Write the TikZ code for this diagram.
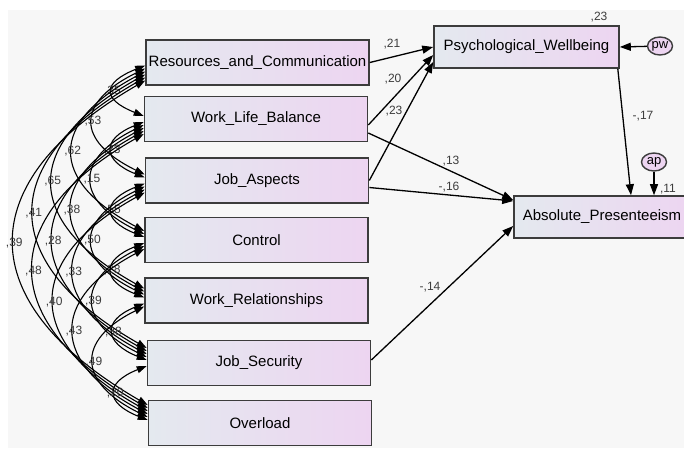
\documentclass[tikz,border=0pt]{standalone}
\usepackage{fontspec}
\setmainfont{Liberation Sans}
\usepackage{tikz}
\usetikzlibrary{arrows.meta,shapes.geometric}
\definecolor{bgc}{HTML}{F7F7F7}
\definecolor{boxl}{HTML}{E4E9EF}
\definecolor{boxr}{HTML}{EDD5F1}
\definecolor{edge}{HTML}{3C3C3C}

\begin{document}
\begin{tikzpicture}[x=1pt,y=-1pt,
        var/.style={draw=edge,line width=1.6pt,left color=boxl,right color=boxr,minimum width=223pt,minimum height=45pt,inner sep=0pt,font=\fontsize{15}{18}\selectfont},
        err/.style={draw=edge,line width=1.4pt,fill=boxr,ellipse,minimum width=25pt,minimum height=18pt,inner sep=0pt,font=\fontsize{13}{15}\selectfont},
        path/.style={line width=1.3pt,-{Triangle[length=11pt,width=8pt]}},
        cov/.style={line width=1.1pt,{Triangle[length=10pt,width=7pt]}-{Triangle[length=10pt,width=7pt]}},
        coef/.style={font=\fontsize{12}{14}\selectfont,text=edge,inner sep=0pt}]
        \useasboundingbox (0,0) rectangle (684,448);
        \fill[bgc] (8,10) rectangle (684,448);
        % exogenous variables
        \node[var] (res) at (257.5,62.5) {Resources\_and\_Communication};
        \node[var] (wlb) at (256,119) {Work\_Life\_Balance};
        \node[var] (jas) at (257,180.5) {Job\_Aspects};
        \node[var] (con) at (256.5,240) {Control};
        \node[var] (wrel) at (256.5,300.5) {Work\_Relationships};
        \node[var] (jsec) at (259,363) {Job\_Security};
        \node[var] (ovl) at (260,423) {Overload};
        % outcomes and errors
        \node[var,minimum width=185pt,minimum height=42pt] (psy) at (526.5,47) {Psychological\_Wellbeing};
        \node[var,minimum width=176pt,minimum height=42pt] (abs) at (602,217) {Absolute\_Presenteeism};
        \node[err] (pw) at (660,46) {pw};
        \node[err] (ap) at (654,162) {ap};
        % paths
        \draw[path] (res.east) -- (psy.west) node[coef,pos=0.35,above=7pt] (c1) {,21};
        \draw[path] ([yshift=-6pt]wlb.east) -- ([yshift=-8pt]psy.west); \draw[path] (jas.east) -- ([yshift=-15pt]psy.west);
        \draw[path] ([yshift=-14pt]wlb.east) -- ([yshift=17pt]abs.west); \draw[path] ([yshift=-7pt]jas.east) -- ([yshift=16pt]abs.west);
        \draw[path] ([yshift=3pt]jsec.east) -- ([yshift=-9pt]abs.west);
        \draw[path] ([xshift=-2pt]psy.south east) -- ([xshift=29pt]abs.north);
        \draw[path] (ap.south) -- (ap.south |- abs.north);
        \draw[path] (pw) -- (psy.east);
        \node[coef] (c2) at (393,79) {,20}; \node[coef] (c3) at (394,111) {,23};
        \node[coef] (c4) at (451,161) {,13}; \node[coef] (c5) at (449,187) {-,16};
        \node[coef] (c6) at (430,287) {-,14}; \node[coef] (c7) at (643,116) {-,17};
        \node[coef] (c8) at (668,189) {,11}; \node[coef] (r1) at (599,17) {,23};
        % covariances
        \foreach \a/\i/\b/\j/\v in {res/1/wlb/2/{,35}, res/1/jas/3/{,53}, res/1/con/4/{,62}, res/1/wrel/5/{,65}, res/1/jsec/6/{,41}, res/1/ovl/7/{,39},
                wlb/2/jas/3/{,23}, wlb/2/con/4/{,15}, wlb/2/wrel/5/{,38}, wlb/2/jsec/6/{,28}, wlb/2/ovl/7/{,48},
                jas/3/con/4/{,55}, jas/3/wrel/5/{,50}, jas/3/jsec/6/{,33}, jas/3/ovl/7/{,40},
                con/4/wrel/5/{,28}, con/4/jsec/6/{,39}, con/4/ovl/7/{,43},
                wrel/5/jsec/6/{,38}, wrel/5/ovl/7/{,49}, jsec/6/ovl/7/{,20}}{
            \pgfmathsetmacro\gap{\j-\i}
            \pgfmathsetmacro\cdep{16+26.7*\gap}
            \pgfmathsetmacro\cvert{17*\gap}
            \pgfmathsetmacro\csh{3*\gap}
            \draw[cov] ([yshift=-\csh pt]\a.west) .. controls +(-\cdep,\cvert) and +(-\cdep,-\cvert) .. ([yshift=\csh pt]\b.west) node[coef,pos=0.5] (r\a\b) {\v};
        }
    \end{tikzpicture}
\end{document}
